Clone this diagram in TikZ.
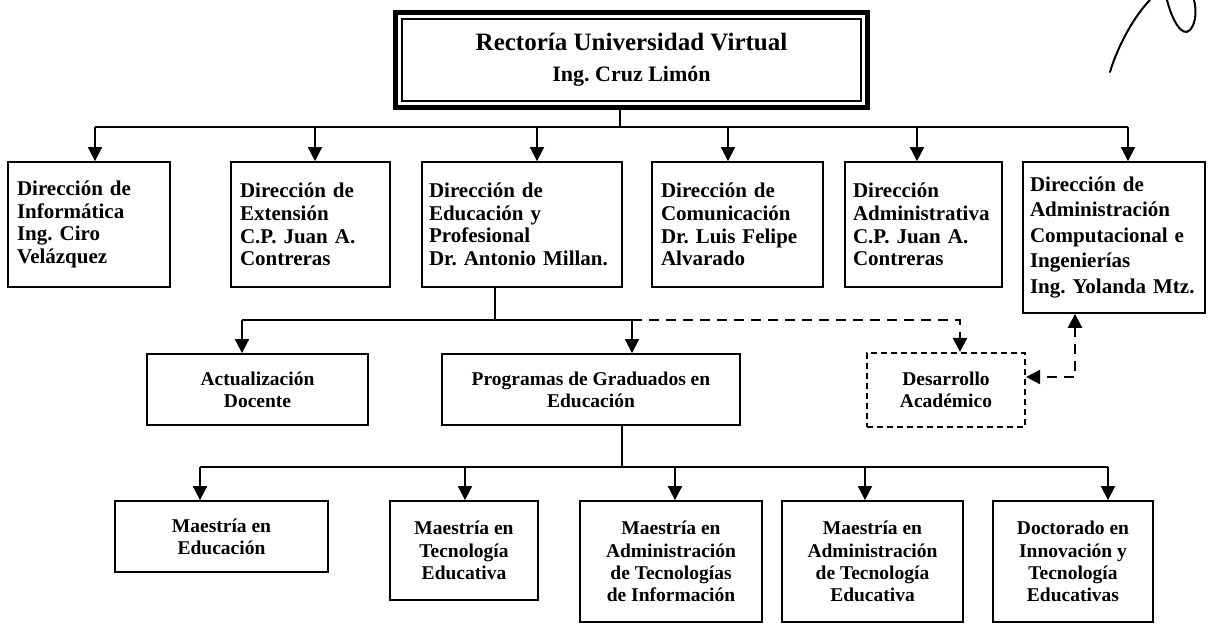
\documentclass[tikz,border=0pt]{standalone}
\usepackage{fontspec}
\setmainfont{Liberation Serif}
\usetikzlibrary{arrows.meta, positioning, calc}
\hyphenpenalty=10000
\frenchspacing

\tikzset{
  orgbox/.style={draw, rectangle, line width=1.8pt, inner xsep=9pt, inner ysep=0pt},
  dirbox/.style={orgbox, align=left, text width=#1, font=\fontsize{21}{22.6}\selectfont\bfseries},
  progbox/.style={orgbox, align=center, font=\fontsize{19.5}{22.3}\selectfont\bfseries},
  bus/.style={line width=1.8pt},
  link/.style={line width=1.8pt, -{Triangle[length=14pt,width=14pt]}},
  dashlink/.style={line width=2.6pt, dash pattern=on 10pt off 7pt, -{Triangle[length=14pt,width=14pt]}},
}

\begin{document}
\begin{tikzpicture}[x=1pt, y=-1pt]
  \useasboundingbox (0,0) rectangle (1210,625);
  % rectoria
  \node[draw, line width=5pt, minimum width=472pt, minimum height=95pt, align=center,
    font=\fontsize{25}{31}\selectfont\bfseries] (rect) at (631.5,60)
    {Rectoría Universidad Virtual\\ \fontsize{22}{31}\selectfont Ing. Cruz Limón};
  \draw[line width=2.2pt] ([shift={(9,9)}]rect.north west) rectangle ([shift={(-9,-9)}]rect.south east);

  % direcciones
  \node[dirbox=144pt, minimum height=125pt] (inf) at (89,224.5) {Dirección de\\Informática\\Ing. Ciro\\Velázquez};
  \node[dirbox=141pt, minimum height=125pt] (ext) at (310.5,224.5) {Dirección de\\Extensión\\C.P. Juan A.\\Contreras};
  \node[dirbox=186pt, inner xsep=7pt, minimum height=125pt] (edu) at (522,224.5) {Dirección de\\Educación y\\Profesional\\Dr. Antonio Millan.};
  \node[dirbox=153pt, minimum height=125pt] (com) at (737.5,224.5) {Dirección de\\Comunicación\\Dr. Luis Felipe\\Alvarado};
  \node[dirbox=141pt, inner xsep=8pt, minimum height=125pt] (adm) at (923.5,224.5) {Dirección\\Administrativa\\C.P. Juan A.\\Contreras};
  \node[dirbox=168pt, inner xsep=7pt, minimum height=151pt, font=\fontsize{21}{25.5}\selectfont\bfseries] (comp) at (1114,237.5) {Dirección de\\Administración\\Computacional e\\Ingenierías\\Ing. Yolanda Mtz.};

  % segundo nivel
  \node[progbox, minimum width=221pt, minimum height=71pt] (act) at (257.5,389.5) {Actualización\\Docente};
  \node[progbox, minimum width=298pt, minimum height=71pt] (prog) at (591,389.5) {Programas de Graduados en\\Educación};
  \node[progbox, line width=2.2pt, dash pattern=on 6pt off 4pt, minimum width=158pt, minimum height=74pt] (des) at (946,390) {Desarrollo\\Académico};

  % programas
  \node[progbox, minimum width=213pt, minimum height=71pt] (me) at (221.5,536.5) {Maestría en\\Educación};
  \node[progbox, minimum width=148pt, minimum height=99pt] (mte) at (464,550.5) {Maestría en\\Tecnología\\Educativa};
  \node[progbox, minimum width=182pt, minimum height=121pt] (mati) at (671,561.5) {Maestría en\\Administración\\de Tecnologías\\de Información};
  \node[progbox, minimum width=181pt, minimum height=121pt] (mate) at (872.5,561.5) {Maestría en\\Administración\\de Tecnología\\Educativa};
  \node[progbox, minimum width=160pt, minimum height=121pt] (doc) at (1073,561.5) {Doctorado en\\Innovación y\\Tecnología\\Educativas};

  % conectores primer nivel
  \coordinate (tm) at (620,127);
  \coordinate (t1) at (95,127);
  \coordinate (t2) at (315,127);
  \coordinate (t3) at (537,127);
  \coordinate (t4) at (728,127);
  \coordinate (t5) at (917,127);
  \coordinate (t6) at (1128,127);
  \draw[bus] (rect.south -| tm) -- (tm);
  \draw[bus] (t1) -- (t6);
  \draw[link] (t1) -- (t1 |- inf.north);
  \draw[link] (t2) -- (t2 |- ext.north);
  \draw[link] (t3) -- (t3 |- edu.north);
  \draw[link] (t4) -- (t4 |- com.north);
  \draw[link] (t5) -- (t5 |- adm.north);
  \draw[link] (t6) -- (t6 |- comp.north);

  % conectores segundo nivel
  \coordinate (s0) at (495,320);
  \coordinate (s1) at (242,320);
  \coordinate (s2) at (632,320);
  \coordinate (s3) at (960,320);
  \coordinate (d1) at (1075,377);
  \draw[bus] (edu.south -| s0) -- (s0);
  \draw[bus] (s1) -- (s2);
  \draw[link] (s1) -- (s1 |- act.north);
  \draw[link] (s2) -- (s2 |- prog.north);
  \draw[dashlink] (s2) -- (s3) -- (s3 |- des.north);
  \draw[dashlink, {Triangle[length=14pt,width=14pt]}-{Triangle[length=14pt,width=14pt]}] (d1 |- comp.south) -- (d1) -- (d1 -| des.east);

  % conectores programas
  \coordinate (m0) at (622,467);
  \coordinate (m1) at (200,467);
  \coordinate (m2) at (465,467);
  \coordinate (m3) at (675,467);
  \coordinate (m4) at (865,467);
  \coordinate (m5) at (1108,467);
  \draw[bus] (prog.south -| m0) -- (m0);
  \draw[bus] (m1) -- (m5);
  \draw[link] (m1) -- (m1 |- me.north);
  \draw[link] (m2) -- (m2 |- mte.north);
  \draw[link] (m3) -- (m3 |- mati.north);
  \draw[link] (m4) -- (m4 |- mate.north);
  \draw[link] (m5) -- (m5 |- doc.north);

  % trazo a mano
  \draw[line width=2pt, line cap=round] (1110,72) .. controls (1118,45) and (1135,15) .. (1150,0);
  \draw[line width=2pt, line cap=round] (1167,0) .. controls (1172,20) and (1182,38) .. (1190,30) .. controls (1197,22) and (1196,8) .. (1194,0);
\end{tikzpicture}
\end{document}
